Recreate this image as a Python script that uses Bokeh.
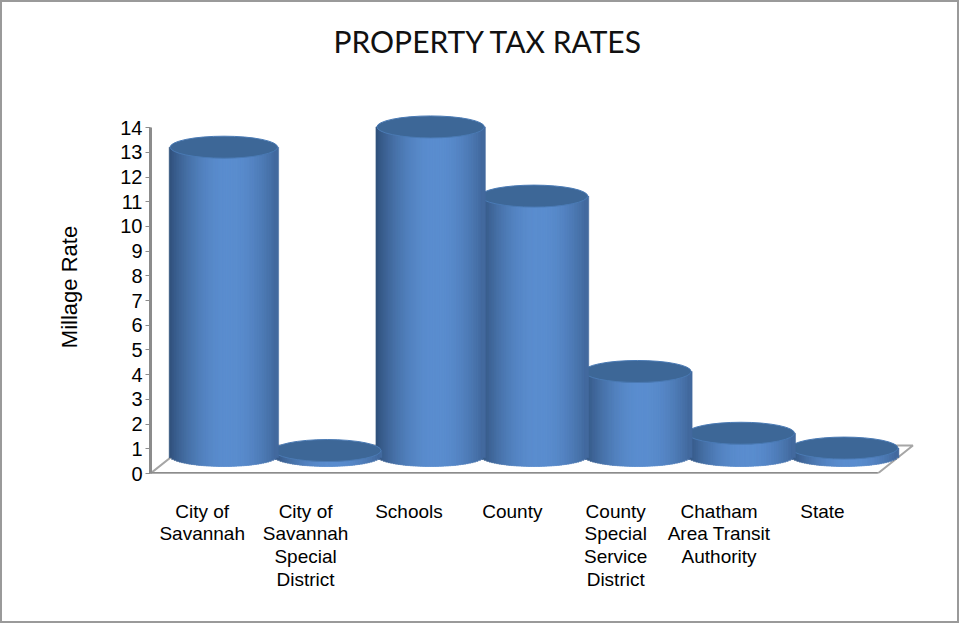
import numpy as np
from bokeh.plotting import figure
from bokeh.models import Range1d, FixedTicker, ColumnDataSource, Title
from bokeh.embed import file_html
from bokeh.resources import INLINE

# ---- data ----
title_text = "PROPERTY TAX RATES"
categories = ["City of\nSavannah", "City of\nSavannah\nSpecial\nDistrict", "Schools", "County",
              "County\nSpecial\nService\nDistrict", "Chatham\nArea Transit\nAuthority", "State"]
millage = [12.48, 0.2, 13.3, 10.5, 3.4, 0.9, 0.3]
y_ticks = list(range(0, 15))

FONT = "Liberation Sans"

p = figure(width=959, height=623, output_backend="svg", toolbar_location=None,
           x_range=Range1d(-0.5, 6.9), y_range=Range1d(0, 15.1),
           min_border_left=148, min_border_right=46, min_border_top=98, min_border_bottom=152)
p.styles = {"border": "2px solid #9a9a9a"}
p.outline_line_color = None
p.xgrid.visible = False
p.ygrid.visible = False
p.background_fill_color = "white"
p.border_fill_color = "white"

# spacer title (closest to frame), then the real title above it
p.add_layout(Title(text=" ", text_font_size="30px", standoff=7), "above")
p.add_layout(Title(text=title_text, text_font="Lato", text_font_size="30px",
                   text_font_style="normal", text_color="#111111", align="left",
                   offset=183, standoff=0), "above")

# y axis
ya = p.yaxis[0]
ya.ticker = FixedTicker(ticks=y_ticks)
ya.bounds = (0, 14)
ya.axis_line_color = "#8c8c8c"
ya.axis_line_width = 3
ya.major_tick_line_color = "#8c8c8c"
ya.major_tick_out = 5
ya.major_tick_in = 0
ya.minor_tick_line_color = None
ya.major_label_text_font = FONT
ya.major_label_text_font_size = "20px"
ya.major_label_text_color = "#000000"
ya.major_label_standoff = 3
ya.axis_label = "Millage Rate"
ya.axis_label_text_font = FONT
ya.axis_label_text_font_size = "22px"
ya.axis_label_text_font_style = "normal"
ya.axis_label_text_color = "#000000"
ya.axis_label_standoff = 35

# x axis
xa = p.xaxis[0]
xa.ticker = FixedTicker(ticks=list(range(len(categories))))
xa.major_label_overrides = {i: c for i, c in enumerate(categories)}
xa.axis_line_color = None
xa.major_tick_line_color = None
xa.minor_tick_line_color = None
xa.major_label_text_font = FONT
xa.major_label_text_font_size = "19px"
xa.major_label_text_line_height = 1.08
xa.major_label_text_color = "#000000"
xa.major_label_standoff = 21

# ---- 3D geometry (style) ----
n = len(categories)
offset = 0.21          # depth shift of cylinders relative to labels
cw = 1.04              # cylinder width (x units)
base = 0.73            # base centre height on floor
eh = 0.89              # ellipse height (y units)
depth_dx, depth_dy = 0.34, 1.13
x0 = p.x_range.start
front_right = x0 + n * 1.005

# floor
fx = [x0, front_right, front_right + depth_dx, x0 + depth_dx]
fy = [0, 0, depth_dy, depth_dy]
p.patch(fx, fy, fill_color="white", line_color="#a6a6a6", line_width=2)
p.segment(x0=[x0], y0=[0], x1=[front_right], y1=[0], line_color="#8c8c8c", line_width=3)

# shading
N = 44
u = (np.arange(N) + 0.5) / N * 2 - 1
t = np.clip(np.cos((u - 0.12) * np.pi / 2.35), 0, 1) ** 0.8
dark = np.array([0x2a, 0x47, 0x6e])
light = np.array([0x5b, 0x8e, 0xd0])
cols = ["#%02x%02x%02x" % tuple((dark + (light - dark) * tt).astype(int)) for tt in t]

for i in reversed(range(n)):
    v = millage[i]
    cx = i + offset
    xs = cx + u * cw / 2
    bottoms = base - (eh / 2) * np.sqrt(np.clip(1 - u ** 2, 0, 1))
    src = ColumnDataSource(dict(x=xs, bottom=bottoms, top=np.full(N, base + v), c=cols))
    p.vbar(x="x", width=cw / N * 1.8, bottom="bottom", top="top", fill_color="c",
           line_color="c", line_width=0.5, source=src)
    p.ellipse(x=[cx], y=[base + v], width=cw, height=eh, fill_color="#3d6797",
              line_color="#4a7ab4", line_width=1)

open("out.html", "w").write(file_html(p, INLINE))
